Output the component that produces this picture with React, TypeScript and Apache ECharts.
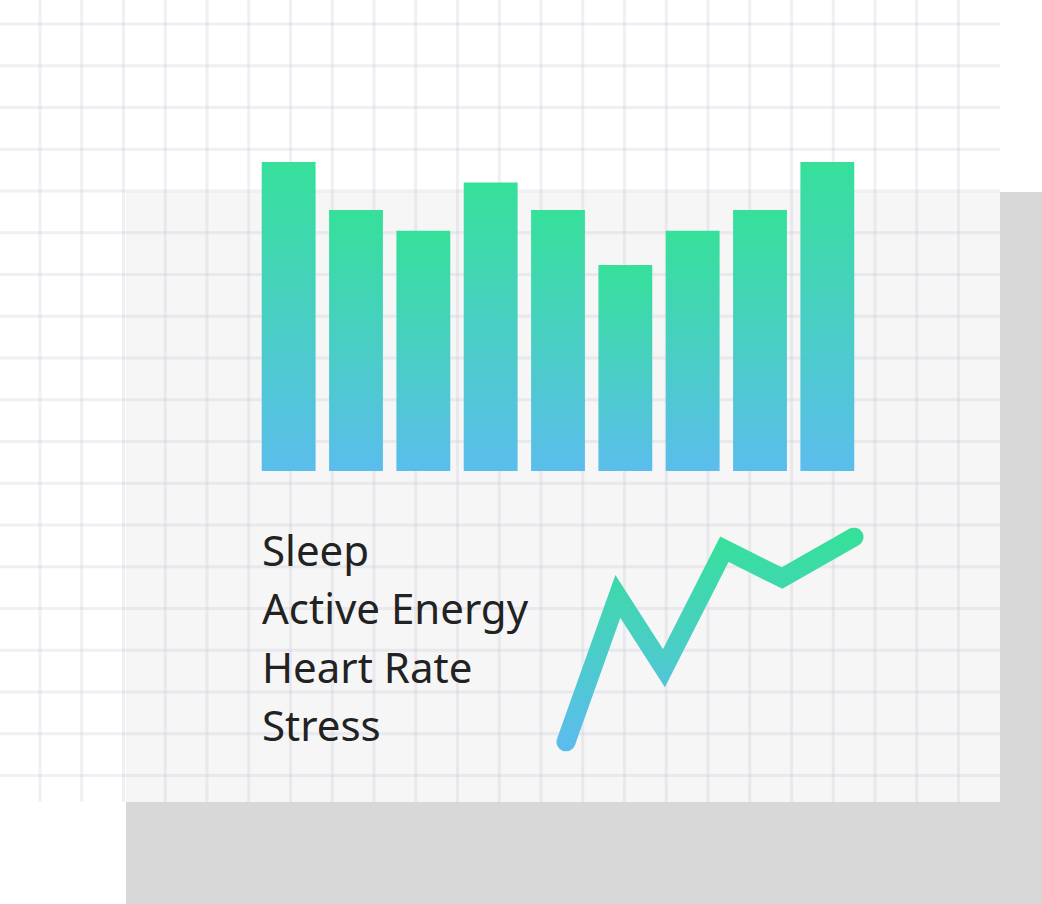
import React, { useEffect, useRef } from "react";
import * as echarts from "echarts";

const barCategories = ["Mon", "Tue", "Wed", "Thu", "Fri", "Sat", "Sun", "Mon2", "Tue2"];
const barValues = [9.0, 7.6, 7.0, 8.4, 7.6, 6.0, 7.0, 7.6, 9.0];
const lineX = [0, 1.8, 3.4, 5.5, 7.5, 10];
const lineY = [0, 71, 36, 94, 80, 100];
const metricLabels = ["Sleep", "Active Energy", "Heart Rate", "Stress"];

const GREEN = "#36e09a";
const BLUE = "#5bbdec";

export default function App() {
  const ref = useRef<HTMLDivElement>(null);
  useEffect(() => {
    if (!ref.current) return;
    const chart = echarts.init(ref.current, undefined, { renderer: "svg" });

    const graphics: any[] = [];
    graphics.push({
      type: "rect",
      shape: { x: 126, y: 192, width: 916, height: 712 },
      style: { fill: "#d8d8d8" },
      z: -20,
      silent: true,
    });
    graphics.push({
      type: "rect",
      shape: { x: 0, y: 0, width: 1000, height: 802 },
      style: { fill: "rgba(255,255,255,0.76)" },
      z: -19,
      silent: true,
    });
    const step = 41.75;
    const gridStroke = "rgba(185,185,205,0.22)";
    for (let x = 40; x < 1000; x += step) {
      graphics.push({
        type: "line",
        shape: { x1: x, y1: 0, x2: x, y2: 802 },
        style: { stroke: gridStroke, lineWidth: 3 },
        z: -18,
        silent: true,
      });
    }
    for (let y = 24; y < 802; y += step) {
      graphics.push({
        type: "line",
        shape: { x1: 0, y1: y, x2: 1000, y2: y },
        style: { stroke: gridStroke, lineWidth: 3 },
        z: -18,
        silent: true,
      });
    }
    metricLabels.forEach((t, i) => {
      graphics.push({
        type: "text",
        x: 262,
        y: 549 + i * 58.5,
        style: {
          text: t,
          fill: "#222222",
          font: "42px 'Noto Sans'",
          textVerticalAlign: "middle",
          textAlign: "left",
        },
        z: 5,
      });
    });

    const barGradient = new echarts.graphic.LinearGradient(0, 0, 0, 1, [
      { offset: 0, color: GREEN },
      { offset: 1, color: BLUE },
    ]);
    const lineGradient = new echarts.graphic.LinearGradient(0, 0, 0, 1, [
      { offset: 0, color: GREEN },
      { offset: 1, color: BLUE },
    ]);

    chart.setOption({
      animation: false,
      graphic: graphics,
      grid: [
        { left: 255, top: 162, width: 606, height: 309 },
        { left: 566, top: 537, width: 288, height: 205 },
      ],
      xAxis: [
        { type: "category", gridIndex: 0, data: barCategories, show: false },
        { type: "value", gridIndex: 1, min: 0, max: 10, show: false },
      ],
      yAxis: [
        { type: "value", gridIndex: 0, min: 0, max: 9, show: false },
        { type: "value", gridIndex: 1, min: 0, max: 100, show: false },
      ],
      series: [
        {
          type: "bar",
          xAxisIndex: 0,
          yAxisIndex: 0,
          data: barValues,
          barCategoryGap: "20%",
          itemStyle: { color: barGradient },
          silent: true,
        },
        {
          type: "line",
          xAxisIndex: 1,
          yAxisIndex: 1,
          data: lineX.map((x, i) => [x, lineY[i]]),
          showSymbol: false,
          lineStyle: { width: 19, color: lineGradient, cap: "round", join: "miter", miterLimit: 10 },
          silent: true,
        },
      ],
    });
    return () => chart.dispose();
  }, []);

  return (
    <div
      ref={ref}
      style={{ position: "fixed", left: 0, top: 0, width: 1042, height: 904, background: "#ffffff" }}
    />
  );
}
